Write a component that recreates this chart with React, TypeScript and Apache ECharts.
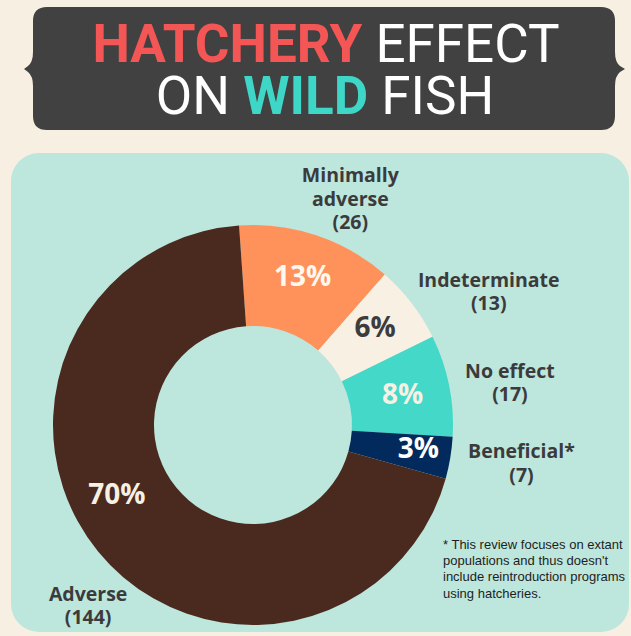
import React, { useEffect, useRef } from "react";
import * as echarts from "echarts";

// ---- data ----
const categories = ["Minimally adverse", "Indeterminate", "No effect", "Beneficial*", "Adverse"];
const studyCounts = [26, 13, 17, 7, 144];
const titleLine1 = [
  { text: "HATCHERY", accent: "red" },
  { text: "EFFECT", accent: "none" },
];
const titleLine2 = [
  { text: "ON", accent: "none" },
  { text: "WILD", accent: "teal" },
  { text: "FISH", accent: "none" },
];
const footnoteLines = [
  "* This review focuses on extant",
  "populations and thus doesn't",
  "include reintroduction programs",
  "using hatcheries.",
];

// ---- styles / layout ----
const sliceColors = ["#ff925a", "#f8f0e3", "#43d8c8", "#022a5c", "#4a2a1f"];
const pctColors = ["#fff8ee", "#3c3c3c", "#f8f0e3", "#ffffff", "#f8f0e3"];
const pctNudge = [
  [1, -5],
  [1, -6],
  [0, -2],
  [15, -3],
  [-18, -28],
];
const nameNudge = [
  [15, 18],
  [31, 23],
  [4, 8],
  [14, -5],
  [35, 17],
];

const bannerPath =
  "M 47 7 L 601 7 Q 615 7 615 21 L 615 52 Q 615 62 620 66 L 625 69 L 620 72 Q 615 76 615 86 L 615 116 Q 615 130 601 130 L 47 130 Q 33 130 33 116 L 33 86 Q 33 76 28 72 L 24 69 L 28 66 Q 33 62 33 52 L 33 21 Q 33 7 47 7 Z";

function richLine(parts: { text: string; accent: string }[]) {
  return parts
    .map((p) => `{${p.accent === "red" ? "r" : p.accent === "teal" ? "t" : "w"}|${p.text}}`)
    .join(" ");
}

function wrapName(n: string) {
  if (n.length > 10 && n.indexOf(" ") > 0) return n.replace(" ", "\n");
  return n;
}

export default function App() {
  const ref = useRef<HTMLDivElement>(null);
  useEffect(() => {
    if (!ref.current) return;
    try {
      echarts.graphic.registerShape("banner", echarts.graphic.extendPath(bannerPath, {}));
    } catch (e) {}
    const chart = echarts.init(ref.current, undefined, { renderer: "svg" });
    const titleRich = {
      r: { fill: "#f45656", fontFamily: "Roboto", fontWeight: "bold", fontSize: 53 },
      t: { fill: "#3ed6c6", fontFamily: "Roboto", fontWeight: "bold", fontSize: 53 },
      w: { fill: "#ffffff", fontFamily: "Roboto", fontWeight: "normal", fontSize: 53 },
    };
    const pieData = categories.map((name, i) => ({
      name,
      value: studyCounts[i],
      itemStyle: { color: sliceColors[i] },
      label: { color: pctColors[i], offset: pctNudge[i] },
    }));
    const nameData = categories.map((name, i) => ({
      name,
      value: studyCounts[i],
      label: { offset: nameNudge[i] },
    }));
    chart.setOption({
      animation: false,
      backgroundColor: "#f7efe2",
      graphic: [
        {
          type: "rect",
          z: -10,
          shape: { x: 11, y: 153, width: 618, height: 479, r: 28 },
          style: { fill: "#bde6dd" },
        },
        {
          type: "banner",
          z: -9,
          x: 0,
          y: 0,
          style: { fill: "#414141" },
        },
        {
          type: "text",
          x: 326,
          y: 43.5,
          style: {
            text: richLine(titleLine1),
            rich: titleRich,
            fill: "#ffffff",
            fontFamily: "Roboto",
            fontSize: 53,
            align: "center",
            verticalAlign: "middle",
          },
        },
        {
          type: "text",
          x: 325,
          y: 95.5,
          style: {
            text: richLine(titleLine2),
            rich: titleRich,
            fill: "#ffffff",
            fontFamily: "Roboto",
            fontSize: 53,
            align: "center",
            verticalAlign: "middle",
          },
        },
        {
          type: "text",
          x: 443,
          y: 536,
          style: {
            text: footnoteLines.join("\n"),
            fill: "#1e1e1e",
            fontFamily: "Liberation Sans, Arial, sans-serif",
            fontSize: 13,
            lineHeight: 16.3,
            align: "left",
            verticalAlign: "top",
          },
        },
      ],
      series: [
        {
          type: "pie",
          silent: true,
          center: [253, 425],
          radius: [99, 200],
          startAngle: 94,
          clockwise: true,
          percentPrecision: 0,
          avoidLabelOverlap: false,
          label: {
            show: true,
            position: "inside",
            formatter: "{d}%",
            fontFamily: "Open Sans",
            fontWeight: "bold",
            fontSize: 28,
          },
          labelLine: { show: false },
          emphasis: { disabled: true },
          data: pieData,
        },
        {
          type: "pie",
          silent: true,
          center: [253, 425],
          radius: [240, 270],
          startAngle: 94,
          clockwise: true,
          avoidLabelOverlap: false,
          itemStyle: { color: "rgba(0,0,0,0)" },
          label: {
            show: true,
            position: "inside",
            formatter: (p: any) => `${wrapName(p.name)}\n(${p.value})`,
            fontFamily: "Open Sans",
            fontWeight: "bold",
            fontSize: 19.5,
            lineHeight: 23.5,
            color: "#3b3b3b",
            align: "center",
          },
          labelLine: { show: false },
          emphasis: { disabled: true },
          data: nameData,
        },
      ],
    });
    return () => chart.dispose();
  }, []);
  return (
    <div
      ref={ref}
      style={{ position: "absolute", left: 0, top: 0, width: 631, height: 636 }}
    />
  );
}
